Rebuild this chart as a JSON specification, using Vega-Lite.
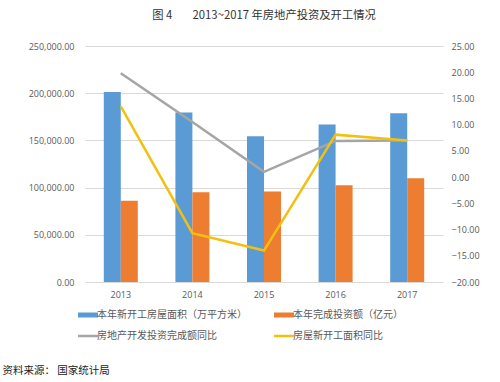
{
  "$schema": "https://vega.github.io/schema/vega-lite/v6.json",
  "width": 358,
  "height": 236,
  "autosize": {"type": "none"},
  "padding": {"left": 85, "top": 46, "right": 57, "bottom": 100},
  "background": "white",
  "title": {
    "text": "图 4\u00a0\u00a0\u00a0\u00a0\u00a0\u00a0\u00a0\u00a02013~2017 年房地产投资及开工情况",
    "font": "Noto Sans CJK SC",
    "fontSize": 11.3,
    "fontWeight": "normal",
    "color": "#333333",
    "anchor": "middle",
    "offset": 21
  },
  "config": {
    "view": {"stroke": null},
    "axis": {
      "labelFont": "Open Sans",
      "labelFontSize": 9,
      "labelColor": "#595959",
      "domain": false,
      "ticks": false
    }
  },
  "datasets": {
    "bars": [
      {"year": "2013", "series": "本年新开工房屋面积（万平方米）", "value": 201208},
      {"year": "2013", "series": "本年完成投资额（亿元）", "value": 86013},
      {"year": "2014", "series": "本年新开工房屋面积（万平方米）", "value": 179592},
      {"year": "2014", "series": "本年完成投资额（亿元）", "value": 95036},
      {"year": "2015", "series": "本年新开工房屋面积（万平方米）", "value": 154454},
      {"year": "2015", "series": "本年完成投资额（亿元）", "value": 95979},
      {"year": "2016", "series": "本年新开工房屋面积（万平方米）", "value": 166928},
      {"year": "2016", "series": "本年完成投资额（亿元）", "value": 102581},
      {"year": "2017", "series": "本年新开工房屋面积（万平方米）", "value": 178654},
      {"year": "2017", "series": "本年完成投资额（亿元）", "value": 109799}
    ],
    "lines": [
      {"year": "2013", "series": "房地产开发投资完成额同比", "value": 19.8},
      {"year": "2014", "series": "房地产开发投资完成额同比", "value": 10.5},
      {"year": "2015", "series": "房地产开发投资完成额同比", "value": 1.0},
      {"year": "2016", "series": "房地产开发投资完成额同比", "value": 6.9},
      {"year": "2017", "series": "房地产开发投资完成额同比", "value": 7.0},
      {"year": "2013", "series": "房屋新开工面积同比", "value": 13.5},
      {"year": "2014", "series": "房屋新开工面积同比", "value": -10.7},
      {"year": "2015", "series": "房屋新开工面积同比", "value": -14.0},
      {"year": "2016", "series": "房屋新开工面积同比", "value": 8.1},
      {"year": "2017", "series": "房屋新开工面积同比", "value": 7.0}
    ]
  },
  "encoding": {
    "x": {
      "field": "year",
      "type": "nominal",
      "scale": {"paddingInner": 0.525, "paddingOuter": 0.2625},
      "axis": {
        "labelAngle": 0,
        "labelPadding": 8,
        "title": "资料来源：\u00a0国家统计局",
        "titleFont": "Noto Sans CJK SC",
        "titleFontSize": 10.5,
        "titleFontWeight": "normal",
        "titleColor": "#222222",
        "titleAnchor": "start",
        "titleAlign": "left",
        "titleBaseline": "middle",
        "titleX": -83,
        "titleY": 88
      }
    }
  },
  "layer": [
    {
      "data": {"name": "bars"},
      "mark": {"type": "bar"},
      "encoding": {
        "xOffset": {"field": "series", "type": "nominal", "sort": ["本年新开工房屋面积（万平方米）", "本年完成投资额（亿元）"], "scale": {"paddingInner": 0, "paddingOuter": 0}},
        "y": {
          "field": "value",
          "type": "quantitative",
          "scale": {"domain": [0, 250000], "nice": false, "zero": true},
          "axis": {
            "orient": "left",
            "title": null,
            "values": [0, 50000, 100000, 150000, 200000, 250000],
            "format": ",.2f",
            "labelPadding": 11,
            "grid": true,
            "gridColor": "#d9d9d9",
            "gridWidth": 1
          }
        },
        "color": {
          "field": "series",
          "type": "nominal",
          "scale": {
            "domain": ["本年新开工房屋面积（万平方米）", "本年完成投资额（亿元）", "房地产开发投资完成额同比", "房屋新开工面积同比"],
            "range": ["#5b9bd5", "#ed7d31", "#a5a5a5", "#f2c00f"]
          },
          "legend": {
            "title": null,
            "orient": "none",
            "legendX": -2,
            "legendY": 264,
            "direction": "horizontal",
            "columns": 2,
            "symbolSize": 400,
            "labelFont": "Noto Sans CJK SC",
            "labelFontSize": 10,
            "labelLimit": 300,
            "labelColor": "#595959",
            "labelOffset": 4,
            "columnPadding": 22,
            "rowPadding": 11,
            "encode": {
              "symbols": {
                "update": {
                  "shape": {"signal": "(datum.value === '房地产开发投资完成额同比' || datum.value === '房屋新开工面积同比') ? 'M-1,0H1' : 'M-1,-0.25H1V0.25H-1Z'"},
                  "fill": {"scale": "color", "field": "value"},
                  "stroke": {"scale": "color", "field": "value"},
                  "strokeWidth": {"signal": "(datum.value === '房地产开发投资完成额同比' || datum.value === '房屋新开工面积同比') ? 2.5 : 0"},
                  "opacity": {"value": 1},
                  "fillOpacity": {"value": 1},
                  "strokeOpacity": {"value": 1}
                }
              }
            }
          }
        }
      }
    },
    {
      "data": {"name": "lines"},
      "mark": {"type": "line", "strokeWidth": 2.5},
      "encoding": {
        "y": {
          "field": "value",
          "type": "quantitative",
          "scale": {"domain": [-20, 25], "nice": false, "zero": false},
          "axis": {
            "orient": "right",
            "title": null,
            "values": [-20, -15, -10, -5, 0, 5, 10, 15, 20, 25],
            "format": ".2f",
            "labelPadding": 8,
            "grid": false
          }
        },
        "color": {"field": "series", "type": "nominal", "legend": null}
      }
    }
  ],
  "resolve": {"scale": {"y": "independent", "xOffset": "independent"}}
}
